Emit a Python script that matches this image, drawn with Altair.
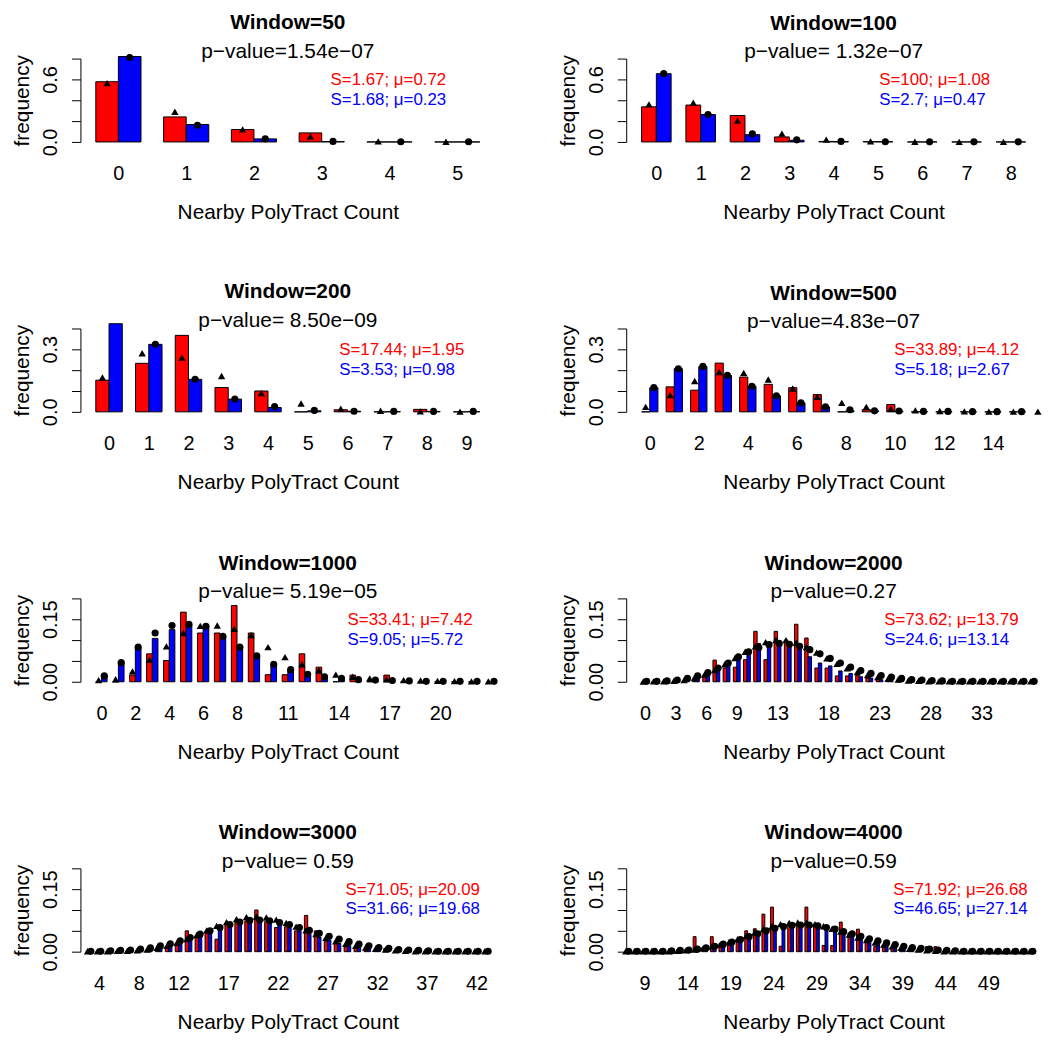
import altair as alt
import pandas as pd

FONT = "Liberation Sans"

windows = [50, 100, 200, 500, 1000, 2000, 3000, 4000]
pvalue_texts = ["p\u2212value=1.54e\u221207", "p\u2212value= 1.32e\u221207",
                "p\u2212value= 8.50e\u221209", "p\u2212value=4.83e\u221207",
                "p\u2212value= 5.19e\u221205", "p\u2212value=0.27",
                "p\u2212value= 0.59", "p\u2212value=0.59"]
ann_red = ["S=1.67; \u03bc=0.72", "S=100; \u03bc=1.08", "S=17.44; \u03bc=1.95", "S=33.89; \u03bc=4.12",
           "S=33.41; \u03bc=7.42", "S=73.62; \u03bc=13.79", "S=71.05; \u03bc=20.09", "S=71.92; \u03bc=26.68"]
ann_blue = ["S=1.68; \u03bc=0.23", "S=2.7; \u03bc=0.47", "S=3.53; \u03bc=0.98", "S=5.18; \u03bc=2.67",
            "S=9.05; \u03bc=5.72", "S=24.6; \u03bc=13.14", "S=31.66; \u03bc=19.68", "S=46.65; \u03bc=27.14"]

# first count of bars / first count of fitted points
bar_first = [0, 0, 0, 0, 0, 0, 4, 9]
fit_first = [0, 0, 0, 0, 0, 0, 3, 7]

x_labels = [[0, 1, 2, 3, 4, 5],
            [0, 1, 2, 3, 4, 5, 6, 7, 8],
            [0, 1, 2, 3, 4, 5, 6, 7, 8, 9],
            [0, 2, 4, 6, 8, 10, 12, 14],
            [0, 2, 4, 6, 8, 11, 14, 17, 20],
            [0, 3, 6, 9, 13, 18, 23, 28, 33],
            [4, 8, 12, 17, 22, 27, 32, 37, 42],
            [9, 14, 19, 24, 29, 34, 39, 44, 49]]
y_ticks = [[0, 0.2, 0.4, 0.6, 0.8], [0, 0.2, 0.4, 0.6, 0.8],
           [0, 0.1, 0.2, 0.3, 0.4], [0, 0.1, 0.2, 0.3, 0.4],
           [0, 0.05, 0.1, 0.15, 0.2], [0, 0.05, 0.1, 0.15, 0.2],
           [0, 0.05, 0.1, 0.15, 0.2], [0, 0.05, 0.1, 0.15, 0.2]]
y_shown = [[0, 0.6], [0, 0.6], [0, 0.3], [0, 0.3], [0, 0.15], [0, 0.15], [0, 0.15], [0, 0.15]]
y_format = [".1f", ".1f", ".1f", ".1f", ".2f", ".2f", ".2f", ".2f"]

# ---- Window=50 (counts 0..5)
w50_red = [0.578, 0.240, 0.119, 0.087, 0.0, 0.0]
w50_blue = [0.820, 0.167, 0.029, 0.003, 0.0, 0.0]
w50_tri = [0.565, 0.290, 0.120, 0.055, 0.005, 0.002]
w50_circ = [0.810, 0.160, 0.030, 0.005, 0.002, 0.002]
# ---- Window=100 (counts 0..8)
w100_red = [0.337, 0.354, 0.254, 0.048, 0.005, 0.003, 0.0, 0.0, 0.0]
w100_blue = [0.655, 0.263, 0.070, 0.016, 0.003, 0.002, 0.0, 0.0, 0.0]
w100_tri = [0.360, 0.376, 0.205, 0.080, 0.022, 0.006, 0.002, 0.001, 0.001]
w100_circ = [0.655, 0.263, 0.077, 0.020, 0.005, 0.002, 0.001, 0.001, 0.001]
# ---- Window=200 (counts 0..9)
w200_red = [0.152, 0.233, 0.367, 0.117, 0.100, 0.0, 0.010, 0.0, 0.012, 0.0]
w200_blue = [0.423, 0.324, 0.156, 0.061, 0.021, 0.005, 0.003, 0.001, 0.002, 0.001]
w200_tri = [0.165, 0.281, 0.260, 0.172, 0.090, 0.040, 0.015, 0.005, 0.002, 0.001]
w200_circ = [None, 0.324, 0.156, 0.061, 0.025, 0.007, 0.003, 0.002, 0.002, 0.002]
# ---- Window=500 (bars 0..15, fits 0..16)
w500_red = [0.0, 0.120, 0.104, 0.234, 0.167, 0.132, 0.116, 0.083, 0.0, 0.010,
            0.035, 0.0, 0.0, 0.0, 0.0, 0.0]
w500_blue = [0.116, 0.207, 0.218, 0.175, 0.123, 0.077, 0.043, 0.024, 0.005, 0.005,
             0.003, 0.001, 0.0, 0.0, 0.0, 0.0]
w500_tri = [0.024, 0.080, 0.148, 0.191, 0.187, 0.155, 0.112, 0.072, 0.043, 0.024,
            0.014, 0.007, 0.004, 0.002, 0.001, 0.001, 0.001]
w500_circ = [0.116, 0.207, 0.218, 0.175, 0.123, 0.077, 0.043, 0.024, 0.010, 0.005,
             0.004, 0.002, 0.002, 0.001, 0.001, 0.001]
# ---- Window=1000 (bars 0..22, fits 0..23)
w1000_red = [0.0, 0.0, 0.016, 0.067, 0.051, 0.167, 0.117, 0.117, 0.183, 0.117,
             0.017, 0.017, 0.067, 0.035, 0.0, 0.016, 0.0, 0.016, 0.0, 0.0,
             0.0, 0.0, 0.0]
w1000_blue = [0.016, 0.047, 0.083, 0.104, 0.125, 0.136, 0.133, 0.109, 0.083, 0.062,
              0.040, 0.029, 0.019, 0.013, 0.004, 0.003, 0.002, 0.0, 0.0, 0.0,
              0.0, 0.0, 0.0]
w1000_tri = [0.004, 0.006, 0.025, 0.053, 0.085, 0.117, 0.134, 0.135, 0.127, 0.112,
             0.083, 0.059, 0.042, 0.027, 0.017, 0.012, 0.008, 0.006, 0.004, 0.003,
             0.002, 0.0015, 0.001, 0.001]
w1000_circ = [0.014, 0.046, 0.083, 0.117, 0.135, 0.138, 0.133, 0.109, 0.083, 0.062,
              0.042, 0.029, 0.018, 0.012, 0.008, 0.005, 0.004, 0.003, 0.002, 0.001,
              0.001, 0.001, 0.001, 0.001]
# ---- Window=2000 (bars 0..37, fits 0..38)
w2000_red = [0.0, 0.0, 0.0, 0.0, 0.0, 0.003, 0.013, 0.052, 0.033, 0.035,
             0.053, 0.121, 0.053, 0.121, 0.100, 0.138, 0.105, 0.033, 0.033, 0.014,
             0.014, 0.016, 0.009, 0.005, 0.002, 0.0, 0.0, 0.0, 0.0, 0.0,
             0.0, 0.0, 0.0, 0.0, 0.0, 0.0, 0.0, 0.0]
w2000_blue = [0.0, 0.0, 0.0, 0.0, 0.002, 0.008, 0.018, 0.035, 0.046, 0.060,
              0.072, 0.092, 0.093, 0.090, 0.086, 0.088, 0.060, 0.045, 0.038, 0.026,
              0.020, 0.012, 0.009, 0.005, 0.003, 0.002, 0.001, 0.0, 0.0, 0.0,
              0.0, 0.0, 0.0, 0.0, 0.0, 0.0, 0.0, 0.0]
w2000_tri = [0.0005, 0.001, 0.001, 0.002, 0.004, 0.009, 0.017, 0.028, 0.042, 0.057,
             0.072, 0.085, 0.095, 0.100, 0.100, 0.094, 0.083, 0.070, 0.056, 0.043,
             0.032, 0.023, 0.016, 0.011, 0.007, 0.005, 0.003, 0.002, 0.001, 0.001,
             0.001, 0.001, 0.001, 0.001, 0.001, 0.001, 0.001, 0.001, 0.001]
w2000_circ = [0.001, 0.001, 0.002, 0.004, 0.008, 0.014, 0.022, 0.033, 0.045, 0.060,
              0.072, 0.082, 0.089, 0.092, 0.090, 0.085, 0.077, 0.067, 0.056, 0.045,
              0.035, 0.027, 0.020, 0.015, 0.011, 0.008, 0.005, 0.004, 0.003, 0.002,
              0.001, 0.001, 0.001, 0.001, 0.001, 0.001, 0.001, 0.001, 0.001]
# ---- Window=3000 (bars 4..42, fits 3..43)
w3000_red = [0.0, 0.0, 0.0, 0.0, 0.002, 0.004, 0.008, 0.012, 0.020, 0.050,
             0.038, 0.045, 0.030, 0.066, 0.070, 0.074, 0.100, 0.072, 0.058, 0.060,
             0.050, 0.087, 0.050, 0.025, 0.025, 0.012, 0.008, 0.004, 0.003, 0.008,
             0.002, 0.0, 0.0, 0.0, 0.0, 0.0, 0.0, 0.0, 0.0]
w3000_blue = [0.001, 0.001, 0.002, 0.002, 0.003, 0.005, 0.008, 0.014, 0.022, 0.035,
              0.040, 0.050, 0.060, 0.068, 0.072, 0.074, 0.074, 0.070, 0.066, 0.058,
              0.050, 0.042, 0.035, 0.028, 0.020, 0.015, 0.010, 0.007, 0.005, 0.003,
              0.002, 0.001, 0.001, 0.001, 0.0, 0.0, 0.0, 0.0, 0.0]
w3000_tri = [0.001, 0.001, 0.001, 0.002, 0.002, 0.003, 0.005, 0.009, 0.014, 0.021,
             0.030, 0.040, 0.051, 0.062, 0.071, 0.078, 0.083, 0.084, 0.082, 0.077,
             0.069, 0.060, 0.051, 0.042, 0.033, 0.025, 0.019, 0.014, 0.010, 0.007,
             0.005, 0.003, 0.002, 0.001, 0.001, 0.001, 0.001, 0.001, 0.001, 0.001, 0.001]
w3000_circ = [0.001, 0.001, 0.002, 0.003, 0.004, 0.006, 0.009, 0.014, 0.019, 0.026,
              0.034, 0.042, 0.050, 0.058, 0.065, 0.071, 0.075, 0.076, 0.074, 0.070,
              0.065, 0.058, 0.051, 0.044, 0.037, 0.030, 0.024, 0.018, 0.014, 0.010,
              0.008, 0.005, 0.004, 0.003, 0.002, 0.001, 0.001, 0.001, 0.001, 0.001, 0.001]
# ---- Window=4000 (bars 9..53, fits 7..54)
w4000_red = [0.0, 0.0, 0.0, 0.0, 0.0, 0.005, 0.036, 0.010, 0.036, 0.020,
             0.015, 0.022, 0.050, 0.055, 0.090, 0.107, 0.013, 0.065, 0.065, 0.107,
             0.065, 0.015, 0.015, 0.071, 0.045, 0.054, 0.030, 0.012, 0.012, 0.010,
             0.004, 0.003, 0.002, 0.012, 0.012, 0.0, 0.0, 0.0, 0.0, 0.0,
             0.0, 0.0, 0.0, 0.0, 0.0]
w4000_blue = [0.001, 0.001, 0.002, 0.002, 0.003, 0.004, 0.006, 0.010, 0.012, 0.020,
              0.025, 0.030, 0.040, 0.045, 0.055, 0.060, 0.060, 0.065, 0.064, 0.066,
              0.063, 0.062, 0.055, 0.050, 0.045, 0.040, 0.035, 0.028, 0.022, 0.018,
              0.012, 0.009, 0.006, 0.004, 0.003, 0.002, 0.001, 0.001, 0.001, 0.001,
              0.001, 0.0, 0.0, 0.0, 0.0]
w4000_tri = [0.001, 0.001, 0.001, 0.001, 0.001, 0.001, 0.002, 0.003, 0.005, 0.008,
             0.012, 0.017, 0.023, 0.030, 0.038, 0.046, 0.054, 0.061, 0.066, 0.069,
             0.070, 0.069, 0.066, 0.061, 0.055, 0.048, 0.041, 0.034, 0.028, 0.022,
             0.017, 0.013, 0.009, 0.007, 0.005, 0.003, 0.002, 0.001, 0.001, 0.001,
             0.001, 0.001, 0.001, 0.001, 0.001, 0.001, 0.001, 0.001]
w4000_circ = [0.001, 0.001, 0.001, 0.001, 0.001, 0.002, 0.003, 0.004, 0.006, 0.009,
              0.013, 0.018, 0.023, 0.029, 0.036, 0.043, 0.050, 0.056, 0.060, 0.063,
              0.064, 0.064, 0.062, 0.058, 0.054, 0.048, 0.043, 0.037, 0.031, 0.026,
              0.021, 0.017, 0.013, 0.010, 0.008, 0.006, 0.004, 0.003, 0.002, 0.001,
              0.001, 0.001, 0.001, 0.001, 0.001, 0.001, 0.001, 0.001]

reds = [w50_red, w100_red, w200_red, w500_red, w1000_red, w2000_red, w3000_red, w4000_red]
blues = [w50_blue, w100_blue, w200_blue, w500_blue, w1000_blue, w2000_blue, w3000_blue, w4000_blue]
tris = [w50_tri, w100_tri, w200_tri, w500_tri, w1000_tri, w2000_tri, w3000_tri, w4000_tri]
circs = [w50_circ, w100_circ, w200_circ, w500_circ, w1000_circ, w2000_circ, w3000_circ, w4000_circ]

# layout (pixels)
PW, PH = 418, 84
ann_x_frac = [0.603, 0.61, 0.624, 0.646, 0.644, 0.622, 0.639, 0.644]
RED, BLUE = "#FF0000", "#0000FF"


def build_frame(i):
    rows = {}
    for key, vals, start in (("red", reds[i], bar_first[i]), ("blue", blues[i], bar_first[i]),
                             ("tri", tris[i], fit_first[i]), ("circ", circs[i], fit_first[i])):
        for k, v in enumerate(vals):
            rows.setdefault(start + k, {})[key] = v
    recs = []
    for c in sorted(rows):
        r = {"count": c, "red": None, "blue": None, "tri": None, "circ": None}
        r.update(rows[c])
        recs.append(r)
    return pd.DataFrame(recs)


def make_panel(i):
    df = build_frame(i)
    b0 = bar_first[i]
    b1 = bar_first[i] + len(reds[i]) - 1
    n = b1 - b0 + 1
    ext = 0.04 * (3 * n - 1) / 3.0
    xs = alt.Scale(domain=[b0 - 1 / 3 - ext, b1 + 1 / 3 + ext], nice=False, zero=False)
    ys = alt.Scale(domain=[0, y_ticks[i][-1]], nice=False, zero=True)
    cond = " || ".join(f"abs(datum.value - {v}) < 1e-9" for v in y_shown[i])
    xa = alt.Axis(values=x_labels[i], title="Nearby PolyTract Count", format="d",
                  domain=False, ticks=False, tickSize=0, labelPadding=22, titlePadding=18,
                  labelFlush=False, labelOverlap=False, grid=False)
    ya = alt.Axis(values=y_ticks[i], title="frequency",
                  labelExpr=f"({cond}) ? format(datum.value, '{y_format[i]}') : ''",
                  labelAngle=270, labelAlign="center", labelBaseline="alphabetic",
                  labelPadding=15, tickSize=9, tickColor="black", tickWidth=1,
                  domainColor="black", domainWidth=1, titlePadding=8, grid=False,
                  labelOverlap=False, labelFlush=False)
    base = alt.Chart(df)
    red_bars = base.transform_filter("isValid(datum.red)").transform_calculate(
        xa="datum.count - 1/3", xb="datum.count").mark_rect(
        fill=RED, stroke="black", strokeWidth=1).encode(
        x=alt.X("xa:Q", scale=xs, axis=xa), x2="xb:Q",
        y=alt.Y("red:Q", scale=ys, axis=ya), y2=alt.datum(0))
    blue_bars = base.transform_filter("isValid(datum.blue)").transform_calculate(
        xa="datum.count", xb="datum.count + 1/3").mark_rect(
        fill=BLUE, stroke="black", strokeWidth=1).encode(
        x=alt.X("xa:Q", scale=xs, axis=xa), x2="xb:Q",
        y=alt.Y("blue:Q", scale=ys, axis=ya), y2=alt.datum(0))
    tri = base.transform_filter("isValid(datum.tri)").transform_calculate(
        xp="datum.count - 1/6").mark_point(
        shape="triangle-up", filled=True, color="black", size=55, opacity=1).encode(
        x=alt.X("xp:Q", scale=xs, axis=xa), y=alt.Y("tri:Q", scale=ys, axis=ya))
    circ = base.transform_filter("isValid(datum.circ)").transform_calculate(
        xp="datum.count + 1/6").mark_point(
        shape="circle", filled=True, color="black", size=52, opacity=1).encode(
        x=alt.X("xp:Q", scale=xs, axis=xa), y=alt.Y("circ:Q", scale=ys, axis=ya))
    t_red = alt.Chart(pd.DataFrame({"t": [ann_red[i]]})).mark_text(
        align="left", baseline="middle", fontSize=17, font=FONT, color=RED).encode(
        text="t:N", x=alt.value(ann_x_frac[i] * PW), y=alt.value(21.5))
    t_blue = alt.Chart(pd.DataFrame({"t": [ann_blue[i]]})).mark_text(
        align="left", baseline="middle", fontSize=17, font=FONT, color=BLUE).encode(
        text="t:N", x=alt.value(ann_x_frac[i] * PW), y=alt.value(41.5))
    return alt.layer(red_bars, blue_bars, tri, circ, t_red, t_blue).properties(
        width=PW, height=PH,
        title=alt.TitleParams(text=f"Window={windows[i]}", subtitle=pvalue_texts[i],
                              anchor="middle", frame="group", offset=-8, subtitlePadding=8))


panels = [make_panel(i) for i in range(8)]
chart = alt.concat(*panels, columns=2, spacing={"row": 188, "column": 132},
                   bounds="flush").properties(
    padding={"left": 4, "top": 0, "right": 0, "bottom": 0}, background="white"
).configure_view(stroke=None).configure_axis(
    labelFont=FONT, titleFont=FONT, labelColor="black", titleColor="black",
    labelFontSize=20, titleFontSize=21, titleFontWeight="normal", grid=False
).configure_title(
    font=FONT, subtitleFont=FONT, fontSize=21, subtitleFontSize=21, color="black",
    subtitleColor="black", fontWeight="bold", subtitleFontWeight="normal"
)

chart.save("out.html", embed_options={"renderer": "svg", "actions": False})
